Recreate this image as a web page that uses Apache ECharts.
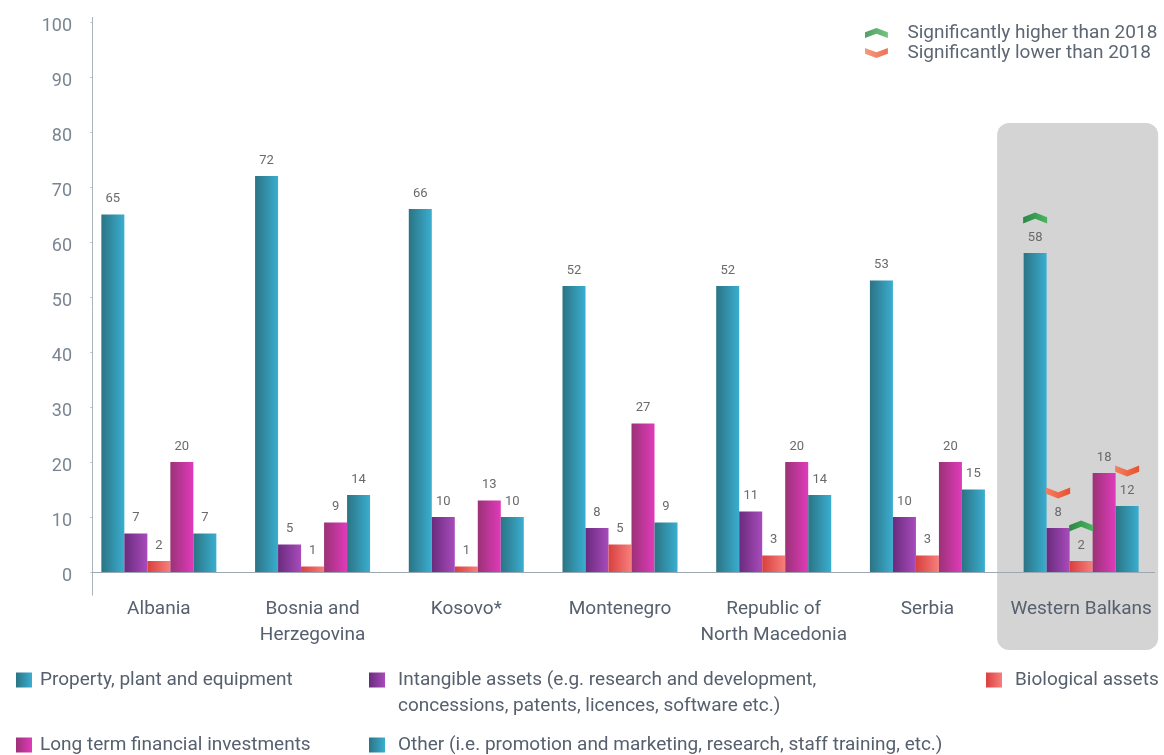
<!DOCTYPE html>
<html>
<head>
<meta charset="utf-8">
<script src="https://cdn.jsdelivr.net/npm/echarts@6/dist/echarts.min.js"></script>
<style>
  html, body { margin: 0; padding: 0; background: #ffffff; }
  #chart { width: 1164px; height: 755px; }
</style>
</head>
<body>
<div id="chart"></div>
<script>
// Purpose of investments, share of firms (%)
const categories = ['Albania', 'Bosnia and\nHerzegovina', 'Kosovo*', 'Montenegro',
  'Republic of\nNorth Macedonia', 'Serbia', 'Western Balkans'];

const seriesNames = [
  'Property, plant and equipment',
  'Intangible assets (e.g. research and development,\nconcessions, patents, licences, software etc.)',
  'Biological assets',
  'Long term financial investments',
  'Other (i.e. promotion and marketing, research, staff training, etc.)'
];

const propertyPlant = [65, 72, 66, 52, 52, 53, 58];
const intangibleAssets = [7, 5, 10, 8, 11, 10, 8];
const biologicalAssets = [2, 1, 1, 5, 3, 3, 2];
const longTermFinancial = [20, 9, 13, 27, 20, 20, 18];
const otherPurposes = [7, 14, 10, 9, 14, 15, 12];

const yTicks = [0, 10, 20, 30, 40, 50, 60, 70, 80, 90, 100];

// Changes vs 2018: [seriesIndex, categoryIndex]
const higherThan2018 = [[0, 6], [2, 6]];
const lowerThan2018 = [[1, 6], [4, 6]];
const changeNames = ['Significantly higher than 2018', 'Significantly lower than 2018'];

const FONT = 'Roboto, "Noto Sans", sans-serif';
const UP_PATH = 'path://M0,4.5 L12,0 L24,4.5 L24,10.5 L12,6 L0,10.5 Z';
const DOWN_PATH = 'path://M0,0 L12,4.5 L24,0 L24,6 L12,10.5 L0,6 Z';

function hGrad(a, b) {
  return new echarts.graphic.LinearGradient(0, 0, 1, 0, [
    { offset: 0, color: a }, { offset: 1, color: b }
  ]);
}

const seriesColors = [
  hGrad('#2b7484', '#3aaed0'),
  hGrad('#6a2b7e', '#a84bbb'),
  hGrad('#d8403e', '#f77f7c'),
  hGrad('#9b3277', '#e03bba'),
  hGrad('#2b7484', '#3aaed0')
];
const upColor = hGrad('#2b8744', '#4bb55f');
const downColor = hGrad('#f3805f', '#e8512f');

const seriesData = [propertyPlant, intangibleAssets, biologicalAssets, longTermFinancial, otherPurposes];

function markersFor(si) {
  const pts = [];
  higherThan2018.forEach(([s, c]) => {
    if (s === si) pts.push({ coord: [c, seriesData[si][c]], symbol: UP_PATH, itemStyle: { color: upColor } });
  });
  lowerThan2018.forEach(([s, c]) => {
    if (s === si) pts.push({ coord: [c, seriesData[si][c]], symbol: DOWN_PATH, itemStyle: { color: downColor } });
  });
  return pts;
}

const barSeries = seriesNames.map((name, i) => ({
  name: name,
  type: 'bar',
  data: seriesData[i],
  barWidth: 23,
  barGap: '0%',
  itemStyle: { color: seriesColors[i] },
  label: {
    show: true, position: 'top', distance: 9,
    color: '#6a6a6a', fontSize: 13, fontFamily: FONT
  },
  markPoint: {
    symbolSize: [24, 11],
    symbolOffset: [0, -35],
    label: { show: false },
    silent: true,
    data: markersFor(i)
  }
}));

// Entries for the "change vs 2018" key
const keySeries = changeNames.map((name, i) => ({
  name: name, type: 'scatter', data: [],
  symbol: i === 0 ? UP_PATH : DOWN_PATH,
  itemStyle: { color: i === 0 ? upColor : downColor }
}));

const legendText = { color: '#56606e', fontSize: 19, fontFamily: FONT, lineHeight: 26, padding: [0, 0, 0, 3] };
function seriesLegend(name, left, top, extra) {
  return Object.assign({
    data: [name], left: left, top: top, padding: 0,
    itemWidth: 16, itemHeight: 15, selectedMode: false,
    icon: 'rect',
    textStyle: legendText
  }, extra || {});
}
const wideGap = Object.assign({}, legendText, { padding: [0, 0, 0, 8] });

const option = {
  animation: false,
  backgroundColor: '#ffffff',
  grid: { left: 82, right: 6, top: 22, bottom: 183, containLabel: false },
  legend: [
    seriesLegend(seriesNames[0], 16, 667),
    // blank first line keeps the swatch level with the first text line
    seriesLegend(seriesNames[1], 369, 641, { textStyle: wideGap, formatter: n => ' \n' + n }),
    seriesLegend(seriesNames[2], 986, 667, { textStyle: wideGap }),
    seriesLegend(seriesNames[3], 16, 732),
    seriesLegend(seriesNames[4], 369, 732, { textStyle: wideGap }),
    {
      data: changeNames, left: 865, top: 23, padding: 0, orient: 'vertical',
      itemWidth: 24, itemHeight: 10, itemGap: 0, selectedMode: false,
      textStyle: { color: '#5d6773', fontSize: 19, fontFamily: FONT, lineHeight: 20, padding: [0, 0, 0, 14] }
    }
  ],
  xAxis: {
    type: 'category',
    data: categories,
    axisLine: { show: false },
    axisTick: { show: false },
    axisLabel: {
      color: '#56606e', fontSize: 19, fontFamily: FONT, lineHeight: 26,
      margin: 24, interval: 0
    }
  },
  yAxis: {
    type: 'value',
    min: yTicks[0], max: yTicks[yTicks.length - 1], interval: yTicks[1] - yTicks[0],
    offset: -10,
    splitLine: { show: false },
    axisLine: { show: false },
    axisTick: { show: true, length: 2, lineStyle: { color: '#c3c9cf' } },
    axisLabel: {
      color: '#7a8593', fontSize: 18, fontFamily: FONT, margin: 20,
      verticalAlign: 'top', lineHeight: 9
    }
  },
  series: barSeries.concat(keySeries)
};

const chart = echarts.init(document.getElementById('chart'), null, { renderer: 'canvas' });
chart.setOption(option);

// Axis lines and the highlight panel behind the regional total
const AXIS_X = 92.5;
const yZero = Math.round(chart.convertToPixel({ yAxisIndex: 0 }, 0)) + 0.5;
const yTop = chart.convertToPixel({ yAxisIndex: 0 }, yTicks[yTicks.length - 1]);
const wbX = chart.convertToPixel({ xAxisIndex: 0 }, categories.length - 1);

chart.setOption({
  graphic: [
    {
      type: 'rect', z: -10, silent: true,
      shape: { x: wbX - 84, y: yTop + 101, width: 161, height: 527, r: 12 },
      style: { fill: '#d4d4d4' }
    },
    {
      type: 'line', z: 1, silent: true,
      shape: { x1: AXIS_X, y1: yTop - 5, x2: AXIS_X, y2: yZero + 23 },
      style: { stroke: '#aab3bc', lineWidth: 1 }
    },
    {
      type: 'line', z: 1, silent: true,
      shape: { x1: AXIS_X, y1: yZero, x2: 1155, y2: yZero },
      style: { stroke: '#9ea8b2', lineWidth: 1 }
    }
  ]
});
</script>
</body>
</html>
